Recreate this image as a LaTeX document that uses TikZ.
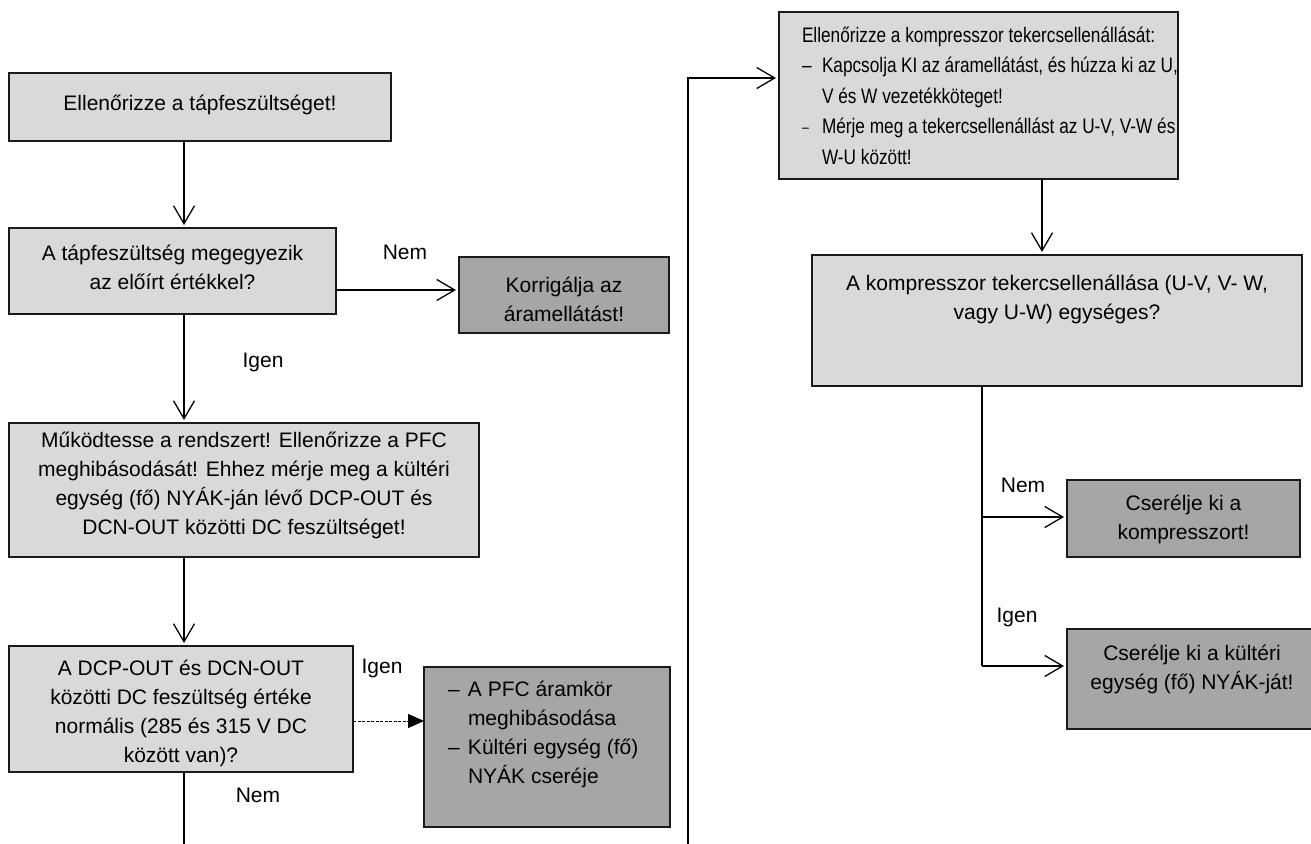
\documentclass[tikz,border=0pt]{standalone}
\usepackage{fontspec}
\setmainfont{Liberation Sans}
\newfontfamily\narrowfont[FakeStretch=0.82]{Liberation Sans}
\usetikzlibrary{arrows.meta}
\definecolor{boxlight}{HTML}{D9D9D9}
\definecolor{boxdark}{HTML}{A6A6A6}
\definecolor{edgecol}{HTML}{1A1A1A}
% #1 width, #2 height, #3 top padding, #4 content (centred)
\newcommand\cbox[4]{\parbox[c][#2pt][t]{#1pt}{\vspace*{#3pt}\centering\strut #4\par}}
% #1 width, #2 height, #3 top padding, #4 left padding, #5 content (left)
\newcommand\lbox[5]{\parbox[c][#2pt][t]{#1pt}{\vspace*{#3pt}\raggedright\leftskip=#4pt\relax\noindent\strut #5\par}}
\newcommand\dsh[1]{\makebox[#1pt][l]{–}}
\newcommand\sdsh[1]{\makebox[#1pt][l]{\raisebox{1pt}{\fontsize{15}{15}\selectfont –}}}
\begin{document}
\begin{tikzpicture}[x=1pt,y=-1pt,
  lightbox/.style={draw=edgecol, line width=1.3pt, fill=boxlight, inner sep=0pt, outer sep=0pt},
  darkbox/.style={lightbox, fill=boxdark},
  flow/.style={line width=1.3pt, draw=black, shorten >=3pt,
    -{Straight Barb[length=18pt,width=21pt,line width=1.3pt]}},
  plain/.style={line width=1.3pt, draw=black},
  dotflow/.style={line width=0.9pt, draw=black, dash pattern=on 3pt off 1.5pt,
    -{Triangle[length=16pt,width=14pt]}},
  lbl/.style={inner sep=0pt},
  font=\fontsize{21}{29}\selectfont]
\useasboundingbox (0,0) rectangle (1311,843);
\fill[white] (0,0) rectangle (1311,843);

% left column
\node[lightbox] (b1) at (200,107) {\cbox{382}{68}{17}{Ellenőrizze a tápfeszültséget!}};
\node[lightbox] (b2) at (172.5,271) {\cbox{327}{86}{12}{A tápfeszültség megegyezik\\az előírt értékkel?}};
\node[darkbox] (b3) at (564,295) {\cbox{210}{76}{15}{Korrigálja az\\áramellátást!}};
\node[lightbox] (b4) at (244,490) {\cbox{470}{134}{4}{Működtesse a rendszert! Ellenőrizze a PFC\\meghibásodását! Ehhez mérje meg a kültéri\\egység (fő) NYÁK-ján lévő DCP-OUT és\\DCN-OUT közötti DC feszültséget!}};
\node[lightbox] (b5) at (181,709) {\cbox{344}{126}{9}{A DCP-OUT és DCN-OUT\\közötti DC feszültség értéke\\normális (285 és 315 V DC\\között van)?}};
\node[darkbox] (b6) at (547,747) {\lbox{246}{160}{9}{24}{\dsh{20}A PFC áramkör\\\hspace*{20pt}meghibásodása\\\dsh{20}Kültéri egység (fő)\\\hspace*{20pt}NYÁK cseréje}};

% right column
\node[lightbox, font=\narrowfont\fontsize{21}{30.5}\selectfont] (b7) at (978.5,95.5) {\lbox{399}{167}{9}{23}{Ellenőrizze a kompresszor tekercsellenállását:\\\dsh{20}Kapcsolja KI az áramellátást, és húzza ki az U,\\\hspace*{20pt}V és W vezetékköteget!\\\sdsh{20}Mérje meg a tekercsellenállást az U-V, V-W és\\\hspace*{20pt}W-U között!}};
\node[lightbox] (b8) at (1057,320.5) {\cbox{490}{131}{15}{A kompresszor tekercsellenállása (U-V, V- W,\\vagy U-W) egységes?}};
\node[darkbox] (b9) at (1183.5,518.5) {\cbox{233}{77}{10}{Cserélje ki a\\kompresszort!}};
\node[darkbox] (b10) at (1192,679) {\cbox{250}{100}{11}{Cserélje ki a kültéri\\egység (fő) NYÁK-ját!}};

% helper coordinates
\coordinate (xA) at (184,0);
\coordinate (yB) at (0,290);
\coordinate (yD) at (0,721);
\coordinate (offA) at (184,850);
\coordinate (offB) at (688,850);
\coordinate (turnB) at (688,78);
\coordinate (xC) at (1042,0);
\coordinate (xS) at (982,0);
\coordinate (yN) at (0,517);
\coordinate (yI) at (0,666);

% connectors
\draw[flow] (b1.south -| xA) -- (b2.north -| xA);
\draw[flow] (b2.east |- yB) -- (b3.west |- yB);
\draw[flow] (b2.south -| xA) -- (b4.north -| xA);
\draw[flow] (b4.south -| xA) -- (b5.north -| xA);
\draw[dotflow] (b5.east |- yD) -- (b6.west |- yD);
\draw[plain] (b5.south -| xA) -- (offA);
\draw[flow] (offB) -- (turnB) -- (b7.west |- turnB);
\draw[flow] (b7.south -| xC) -- (b8.north -| xC);
\draw[plain] (b8.south -| xS) -- (xS |- yI);
\draw[flow] (xS |- yN) -- (b9.west |- yN);
\draw[flow] (xS |- yI) -- (b10.west |- yI);

% labels
\node[lbl] (l1) at (405,252) {Nem};
\node[lbl] (l2) at (263,362) {Igen};
\node[lbl] (l3) at (382,668) {Igen};
\node[lbl] (l4) at (258,795) {Nem};
\node[lbl] (l5) at (1023,485) {Nem};
\node[lbl] (l6) at (1017,617) {Igen};
\end{tikzpicture}
\end{document}
